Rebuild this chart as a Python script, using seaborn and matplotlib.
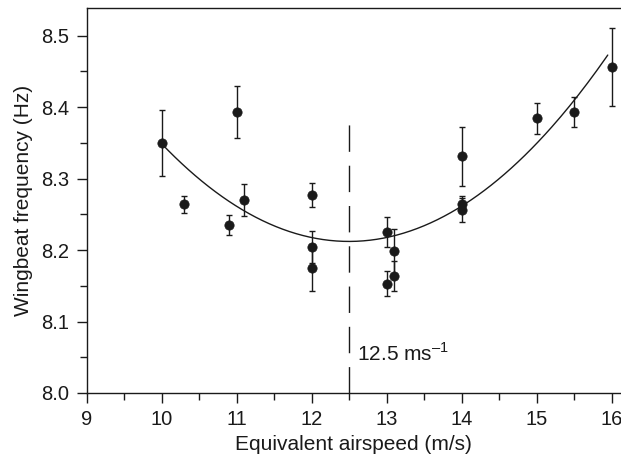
import numpy as np
import pandas as pd
import matplotlib
matplotlib.use("Agg")
import matplotlib.pyplot as plt
from matplotlib.ticker import MultipleLocator
import seaborn as sns

# Wingbeat frequency measured at each equivalent airspeed (mean ± s.e.)
airspeed = [10.0, 10.3, 10.9, 11.0, 11.1, 12.0, 12.0, 12.0, 13.0,
            13.0, 13.1, 13.1, 14.0, 14.0, 14.0, 15.0, 15.5, 16.0]
wingbeat = [8.350, 8.264, 8.235, 8.393, 8.270, 8.277, 8.204, 8.175, 8.225,
            8.153, 8.198, 8.164, 8.331, 8.265, 8.256, 8.384, 8.393, 8.456]
wingbeat_err = [0.046, 0.012, 0.014, 0.036, 0.023, 0.017, 0.022, 0.033, 0.021,
                0.018, 0.031, 0.021, 0.041, 0.010, 0.017, 0.022, 0.021, 0.055]

# Quadratic fit: f = curvature * (U - optimum)^2 + minimum
fit_optimum = 12.5
fit_minimum = 8.212
fit_curvature = 0.0219
fit_range = (10.0, 15.95)
marker_line_top = 8.38
marker_label = "12.5 ms$^{\\mathregular{–1}}$"

df = pd.DataFrame({"speed": airspeed, "freq": wingbeat, "err": wingbeat_err})
u = np.linspace(fit_range[0], fit_range[1], 200)
fit_df = pd.DataFrame({"speed": u,
                       "freq": fit_curvature * (u - fit_optimum) ** 2 + fit_minimum})

sns.set_theme(style="ticks")
ink = "#1a1a1a"
plt.rcParams["font.family"] = ["Liberation Sans", "DejaVu Sans"]
plt.rcParams["mathtext.fontset"] = "custom"
plt.rcParams["mathtext.rm"] = "Liberation Sans"
plt.rcParams["text.color"] = ink
plt.rcParams["axes.labelcolor"] = ink
plt.rcParams["xtick.color"] = ink
plt.rcParams["ytick.color"] = ink

fig = plt.figure(figsize=(6.21, 4.59), dpi=100)
ax = fig.add_axes([86.5 / 621, 66 / 459, 1 - 86.5 / 621, 385 / 459])

# Fitted curve
sns.lineplot(data=fit_df, x="speed", y="freq", ax=ax, color=ink, lw=1.0)

# Error bars and points
ax.errorbar(df["speed"], df["freq"], yerr=df["err"], fmt="none",
            ecolor=ink, elinewidth=1.0, capsize=2.0, capthick=1.0, zorder=3)
sns.scatterplot(data=df, x="speed", y="freq", ax=ax, color=ink, s=45,
                edgecolor=ink, linewidth=0.5, zorder=4)

# Optimum speed marker
ax.plot([fit_optimum, fit_optimum], [8.0, marker_line_top], color=ink,
        lw=1.0, dashes=(19, 10))
ax.text(fit_optimum + 0.1, 8.055, marker_label, fontsize=15, color=ink,
        va="center", ha="left")

ax.set_xlim(9, 9 + (621 - 86.5) / 75)
ax.set_ylim(8.0, 8.5385)
ax.xaxis.set_major_locator(MultipleLocator(1))
ax.xaxis.set_minor_locator(MultipleLocator(0.5))
ax.yaxis.set_major_locator(MultipleLocator(0.1))
ax.yaxis.set_minor_locator(MultipleLocator(0.05))
ax.yaxis.set_major_formatter(matplotlib.ticker.FormatStrFormatter("%.1f"))

ax.tick_params(which="major", length=7.5, width=1.0, labelsize=14.5, pad=5)
ax.tick_params(which="minor", length=5, width=1.0)
for side in ["left", "bottom", "top"]:
    ax.spines[side].set_color(ink)
    ax.spines[side].set_linewidth(1.0)
ax.spines["right"].set_visible(False)

ax.set_xlabel("Equivalent airspeed (m/s)", fontsize=15, labelpad=4)
ax.set_ylabel("Wingbeat frequency (Hz)", fontsize=15, labelpad=6)

fig.savefig("out.png", dpi=100)
